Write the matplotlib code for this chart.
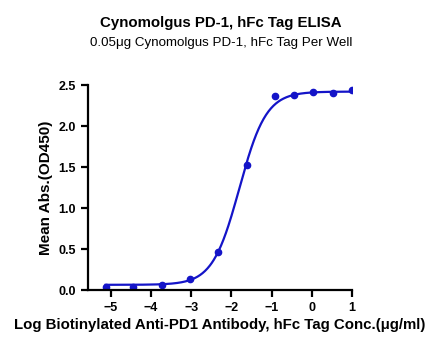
import numpy as np
import matplotlib.pyplot as plt

plt.rcParams['font.family'] = ['Liberation Sans', 'DejaVu Sans']

# measured points (log conc vs mean OD450)
log_conc = [-5.13, -4.44, -3.73, -3.03, -2.33, -1.62, -0.91, -0.43, 0.04, 0.52, 1.0]
od450 = [0.04, 0.04, 0.06, 0.13, 0.47, 1.52, 2.37, 2.38, 2.42, 2.40, 2.44]

# 4PL fit
bottom, top, logec50, hill = 0.065, 2.42, -1.80, 1.30

blue = '#1414c8'

fig = plt.figure(figsize=(4.42, 3.5), dpi=100)
ax = fig.add_axes([0.199, 0.171, 0.597, 0.586])

xs = np.linspace(min(log_conc), max(log_conc), 400)
ys = bottom + (top - bottom) / (1 + 10 ** ((logec50 - xs) * hill))
ax.plot(xs, ys, color=blue, lw=1.6)
ax.plot(log_conc, od450, 'o', color=blue, ms=4.5)

ax.set_xlim(-5.57, 1.0)
ax.set_ylim(0, 2.5)
ax.set_xticks([-5, -4, -3, -2, -1, 0, 1])
ax.set_yticks([0, 0.5, 1.0, 1.5, 2.0, 2.5])
ax.set_yticklabels(['0.0', '0.5', '1.0', '1.5', '2.0', '2.5'])
for s in ['top', 'right']:
    ax.spines[s].set_visible(False)
for s in ['left', 'bottom']:
    ax.spines[s].set_linewidth(1.6)
ax.tick_params(width=1.6, length=5, labelsize=9)
for lab in ax.get_xticklabels() + ax.get_yticklabels():
    lab.set_fontweight('bold')

ax.set_ylabel('Mean Abs.(OD450)', fontsize=11, fontweight='bold')
ax.set_xlabel('Log Biotinylated Anti-PD1 Antibody, hFc Tag Conc.(\u03bcg/ml)',
              fontsize=10.8, fontweight='bold', labelpad=3)

fig.text(0.5, 0.935, 'Cynomolgus PD-1, hFc Tag ELISA', ha='center', va='center',
         fontsize=10.8, fontweight='bold')
fig.text(0.5, 0.877, '0.05\u03bcg Cynomolgus PD-1, hFc Tag Per Well', ha='center',
         va='center', fontsize=9.6)

fig.savefig('out.png', dpi=100)
